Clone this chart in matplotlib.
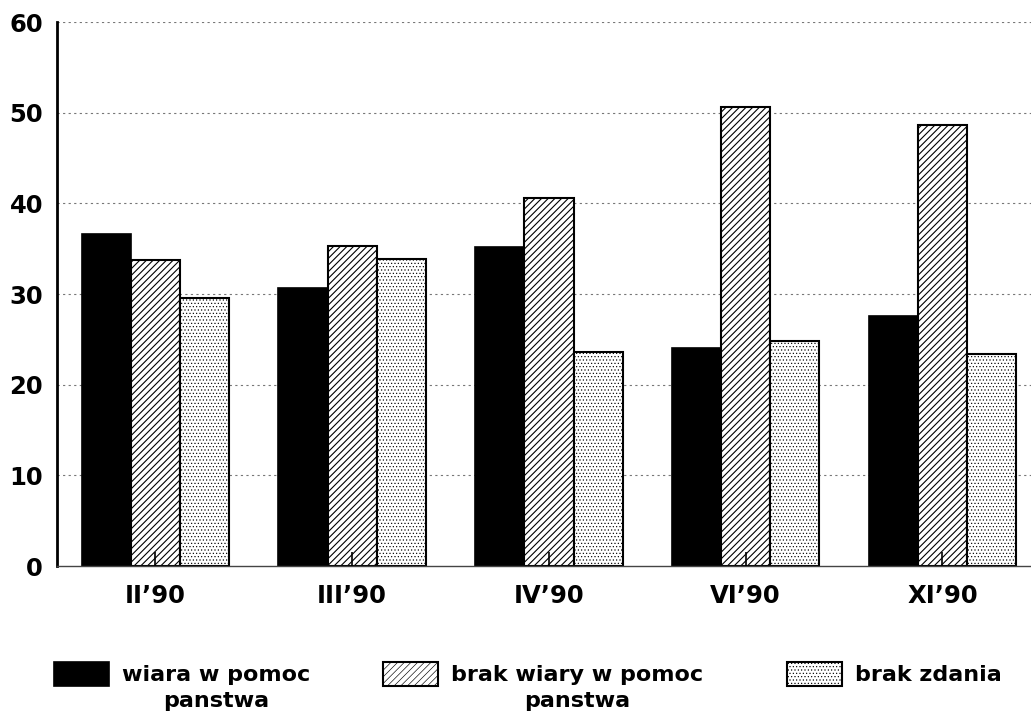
import matplotlib
matplotlib.use("Agg")
import matplotlib.pyplot as plt
import numpy as np

categories = ["II\u201990", "III\u201990", "IV\u201990", "VI\u201990", "XI\u201990"]
legend_first = ["wiara w pomoc", "brak wiary w pomoc", "brak zdania"]
legend_second = ["panstwa", "panstwa", ""]
wiara = [36.6, 30.7, 35.2, 24.0, 27.6]
brak_wiary = [33.7, 35.3, 40.6, 50.6, 48.6]
brak_zdania = [29.6, 33.9, 23.6, 24.8, 23.4]
yticks = [0, 10, 20, 30, 40, 50, 60]

plt.rcParams['font.family'] = ['DejaVu Sans']
plt.rcParams['font.weight'] = 'bold'

fig = plt.figure(figsize=(10.31, 7.16), dpi=100)
ax = fig.add_axes([57/1031, 1-566/716, (1031-57)/1031, (566-22)/716])

x = np.arange(len(categories))
w = 0.25
plt.rcParams['hatch.linewidth'] = 0.8
b1 = ax.bar(x - w, wiara, w, color='black', edgecolor='black', linewidth=1.2, zorder=2)
b2 = ax.bar(x, brak_wiary, w, facecolor='white', edgecolor='black', hatch='/////', linewidth=1.5,
            zorder=2)
plt.rcParams['hatch.linewidth'] = 0.45
b3 = ax.bar(x + w, brak_zdania, w, facecolor='white', edgecolor='black', hatch='.....',
            linewidth=1.5, zorder=2)

ax.set_xlim(-0.5, 4.45)
ax.set_ylim(0, 60)
ax.set_yticks(yticks)
ax.set_yticklabels([str(v) for v in yticks], fontsize=17.5, fontweight='bold')
ax.set_xticks(x)
ax.set_xticklabels(categories, fontsize=17.5, fontweight='bold')
ax.tick_params(axis='y', length=0, pad=10)
ax.tick_params(axis='x', direction='in', length=10, width=1.2, pad=13)

ax.set_axisbelow(False)
for v in yticks[1:]:
    ax.axhline(v, color='#777777', linestyle=(0, (2, 3)), linewidth=0.8, zorder=0.5)
for s in ['top', 'right']:
    ax.spines[s].set_visible(False)
ax.spines['left'].set_linewidth(2)
ax.spines['bottom'].set_linewidth(1.0)
ax.spines['bottom'].set_color('#444444')

handles = [b1, b2, b3]
legend_x = [54/1031, 383/1031, 787/1031]
legends = []
for h, lab, lx in zip(handles, legend_first, legend_x):
    lg = fig.legend(handles=[h], labels=[lab], loc='upper left', bbox_to_anchor=(lx, 1-662/716),
                    frameon=False, fontsize=16, handlelength=2.48, handleheight=1.25,
                    handletextpad=0.6, borderpad=0, borderaxespad=0)
    lg.get_texts()[0].set_fontweight('bold')
    legends.append(lg)

fig.canvas.draw()
r = fig.canvas.get_renderer()
for lg, sec in zip(legends, legend_second):
    if not sec:
        continue
    bb = lg.get_texts()[0].get_window_extent(r)
    cx = (bb.x0 + bb.x1) / 2 / fig.bbox.width
    fig.text(cx, 1-691/716, sec, ha='center', va='top', fontsize=16, fontweight='bold')

fig.savefig("out.png", dpi=100)
